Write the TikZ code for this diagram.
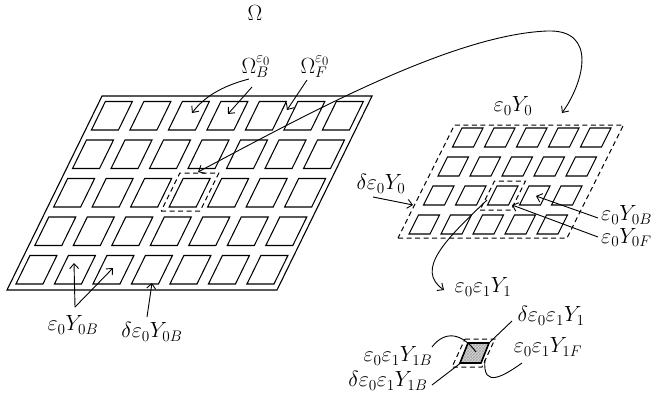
\documentclass[tikz,border=0pt]{standalone}
\usetikzlibrary{arrows.meta,patterns}
\begin{document}
\begin{tikzpicture}[x=1pt,y=-1pt,
  lbl/.style={font=\huge, inner sep=0pt, scale=1.06, transform shape},
  outline/.style={line width=1.1pt, line join=miter},
  cellbox/.style={line width=1.05pt, line join=miter},
  dsh/.style={line width=1pt, dash pattern=on 5pt off 3.5pt},
  arr/.style={line width=0.9pt, -{Straight Barb[length=5pt,width=9pt]}},
  dblarr/.style={line width=0.9pt, {Straight Barb[length=5pt,width=9pt]}-{Straight Barb[length=5pt,width=9pt]}},
  conn/.style={line width=0.9pt}]
\useasboundingbox (0,0) rectangle (658,405);

% ---------- macroscopic domain: slanted plate with 7 x 5 inclusions ----------
\draw[outline] (7,290) -- (277,290) -- (372.06,96) -- (102.06,96) -- cycle;
\foreach \i in {0,...,6}{
  \foreach \j in {0,...,4}{
    \pgfmathsetmacro\ux{13+38.5*\i+0.49*(6+38.5*\j)}
    \pgfmathsetmacro\vy{290-(6+38.5*\j)}
    \draw[cellbox] (\ux,\vy) -- ++(27,0) -- ++(13.97,-28.5) -- ++(-27,0) -- cycle;
  }
}
% selected period in the plate
\draw[dsh] (161.2,211) -- (200.2,211) -- (218.8,173) -- (179.8,173) -- cycle;

% ---------- first-level periodic cell: 5 x 4 inclusions ----------
\draw[dsh] (398,238) -- (567,238) -- (623.5,125) -- (454.5,125) -- cycle;
\foreach \i in {0,...,4}{
  \foreach \j in {0,...,3}{
    \pgfmathsetmacro\ux{398+9+32*\i+0.5*(4+29*\j)}
    \pgfmathsetmacro\vy{238-(4+29*\j)}
    \draw[cellbox] (\ux,\vy) -- ++(21,0) -- ++(9.5,-19) -- ++(-21,0) -- cycle;
  }
}
% selected period in the first-level cell
\draw[dsh] (480,210) -- (511,210) -- (525.5,181) -- (494.5,181) -- cycle;

% ---------- second-level cell ----------
\fill[gray!30] (468,343) -- (489,343) -- (481,363) -- (460,363) -- cycle;
\fill[pattern=crosshatch, pattern color=gray!70] (468,343) -- (489,343) -- (481,363) -- (460,363) -- cycle;
\draw[line width=1.6pt, line join=miter] (468,343) -- (489,343) -- (481,363) -- (460,363) -- cycle;
\draw[dsh] (465,339) -- (495,339) -- (482,367) -- (452,367) -- cycle;

% ---------- labels ----------
\node[lbl] (om)   at (255,13)  {$\Omega$};
\node[lbl] (omB)  at (256,67)  {$\Omega_B^{\varepsilon_0}$};
\node[lbl] (omF)  at (315,67)  {$\Omega_F^{\varepsilon_0}$};
\node[lbl] (yB)   at (73,325)  {$\varepsilon_0 Y_{0B}$};
\node[lbl] (dyB)  at (152,332) {$\delta\varepsilon_0 Y_{0B}$};
\node[lbl] (y0)   at (513,106) {$\varepsilon_0 Y_0$};
\node[lbl] (dy0)  at (381,184) {$\delta\varepsilon_0 Y_0$};
\node[lbl,anchor=west] (y0B) at (601,215) {$\varepsilon_0 Y_{0B}$};
\node[lbl,anchor=west] (y0F) at (601,237.5) {$\varepsilon_0 Y_{0F}$};
\node[lbl] (y1)   at (483,287) {$\varepsilon_0\varepsilon_1 Y_1$};
\node[lbl] (dy1)  at (551,316) {$\delta\varepsilon_0\varepsilon_1 Y_1$};
\node[lbl] (y1F)  at (548,347) {$\varepsilon_0\varepsilon_1 Y_{1F}$};
\node[lbl] (y1B)  at (398,356) {$\varepsilon_0\varepsilon_1 Y_{1B}$};
\node[lbl] (dy1B) at (388,381) {$\delta\varepsilon_0\varepsilon_1 Y_{1B}$};

% ---------- connector end points ----------
\coordinate (omBa) at (249,79);   \coordinate (omBaT) at (192,113);
\coordinate (omBb) at (252,87);   \coordinate (omBbT) at (228,114);
\coordinate (omFa) at (307,80);   \coordinate (omFaT) at (287,110);
\coordinate (cellA) at (198,172); \coordinate (apex) at (547,31);
\coordinate (cellB) at (562,113);
\coordinate (yBs) at (75,307);    \coordinate (yBt1) at (74,263); \coordinate (yBt2) at (113,268);
\coordinate (dyBs) at (147,317);  \coordinate (dyBt) at (152,283);
\coordinate (dy0s) at (373,197);  \coordinate (dy0t) at (413,205);
\coordinate (y0Bs) at (598,218);  \coordinate (y0Bt) at (536,196);
\coordinate (y0Fs) at (598,237);  \coordinate (y0Ft) at (512,205);
\coordinate (zoomS) at (487,200); \coordinate (zoomT) at (444,290);
\coordinate (y1Bs) at (432,347);  \coordinate (y1Bt) at (476,352);
\coordinate (dy1s) at (512,321);  \coordinate (dy1t) at (490,342);
\coordinate (y1Fs) at (522,363);  \coordinate (y1Ft) at (485,360);
\coordinate (dy1Bs) at (432,385); \coordinate (dy1Bt) at (462,362);

% ---------- connectors ----------
\draw[arr] (omBa) .. controls (222,86) and (204,97) .. (omBaT);
\draw[arr] (omBb) -- (omBbT);
\draw[arr] (omFa) -- (omFaT);
\draw[dblarr] (cellA) .. controls (300,118) and (450,35) .. (apex)
                      .. controls (598,29) and (584,82) .. (cellB);
\draw[arr] (yBs) -- (yBt1);
\draw[arr] (yBs) -- (yBt2);
\draw[arr] (dyBs) -- (dyBt);
\draw[arr] (dy0s) -- (dy0t);
\draw[arr] (y0Bs) -- (y0Bt);
\draw[arr] (y0Fs) -- (y0Ft);
\draw[arr] (zoomS) .. controls (445,240) and (415,270) .. (zoomT);
\draw[conn] (y1Bs) .. controls (445,330) and (462,333) .. (y1Bt);
\draw[conn] (dy1s) -- (dy1t);
\draw[conn] (y1Fs) .. controls (505,375) and (482,390) .. (y1Ft);
\draw[conn] (dy1Bs) -- (dy1Bt);
\end{tikzpicture}
\end{document}
